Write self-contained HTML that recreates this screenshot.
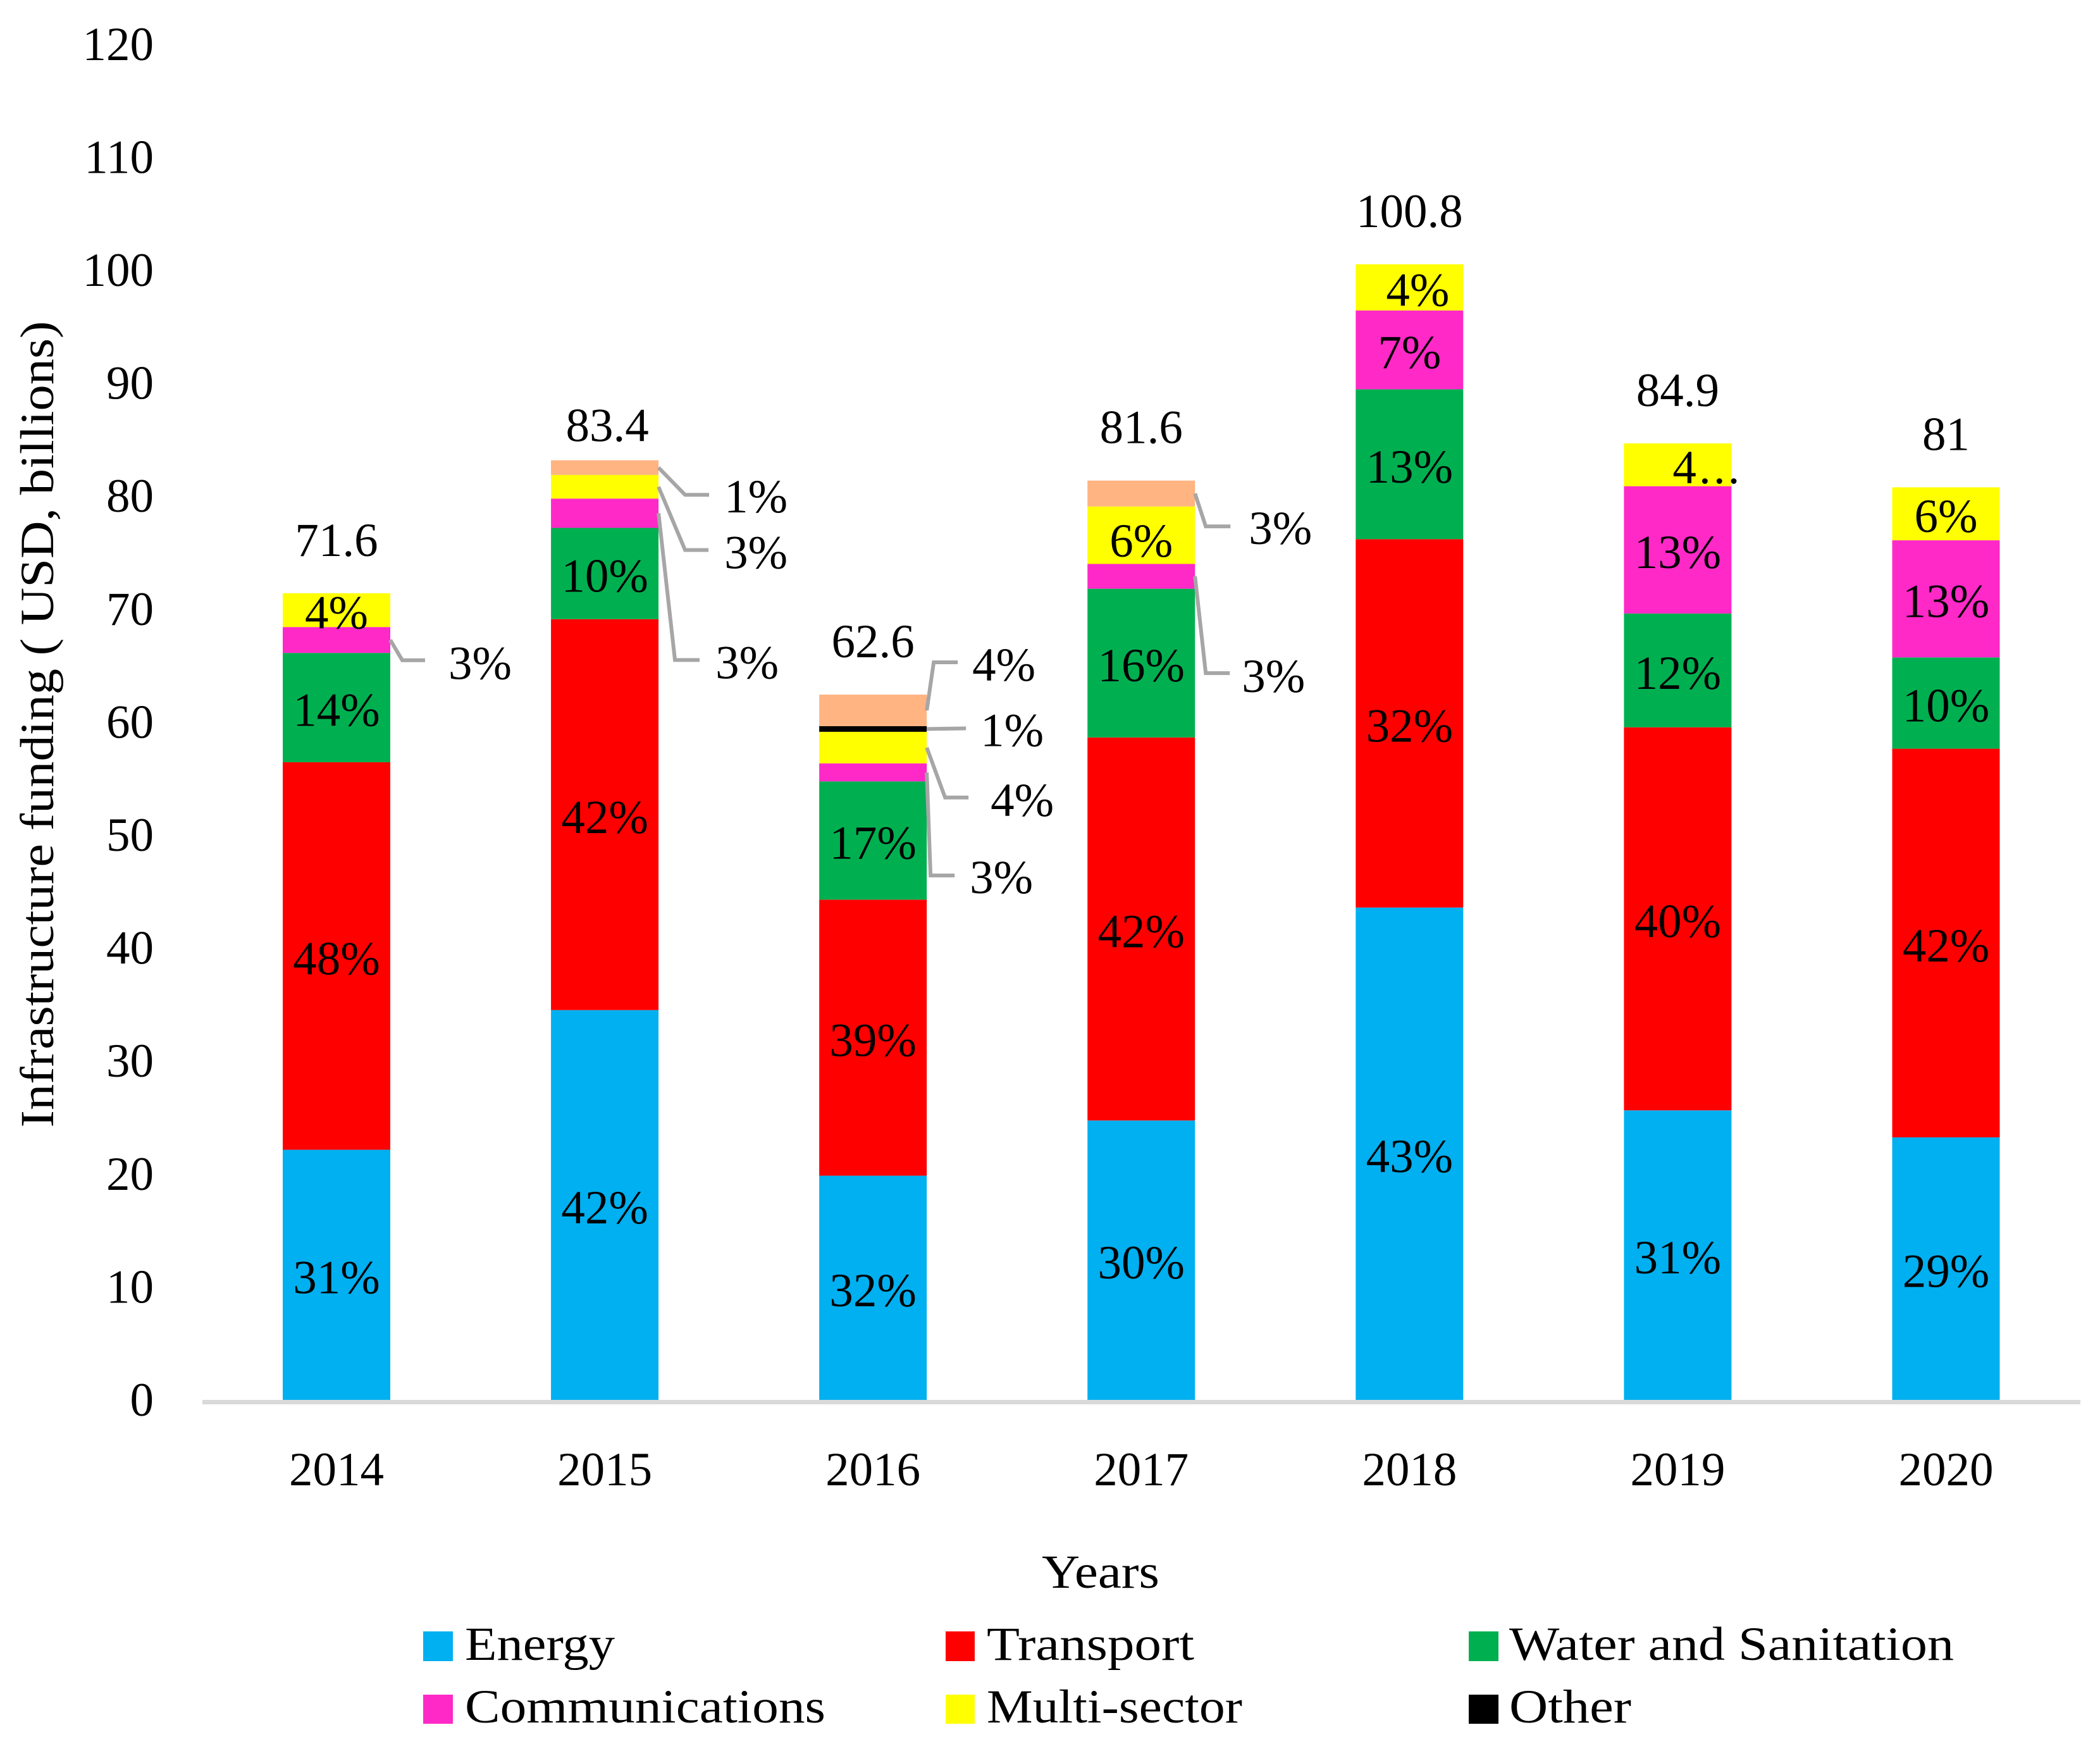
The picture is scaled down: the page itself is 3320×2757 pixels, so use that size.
<!DOCTYPE html>
<html lang="en">
<head>
<meta charset="utf-8">
<title>Infrastructure funding by sector</title>
<style>
html,body{margin:0;padding:0;background:#fff;width:3320px;height:2757px;overflow:hidden}
svg{display:block}
text{font-family:"Liberation Serif",serif;font-size:75px;fill:#000}
</style>
</head>
<body>
<svg id="chart" xmlns="http://www.w3.org/2000/svg" width="3320" height="2757" viewBox="0 0 3320 2757">
  <rect x="320" y="2213" width="2969" height="7" fill="#D9D9D9"/>
  <text x="84" y="1145" text-anchor="middle" textLength="1275" lengthAdjust="spacingAndGlyphs" transform="rotate(-90 84 1145)">Infrastructure funding ( USD, billions)</text>
  <text x="1740" y="2510" text-anchor="middle" textLength="186" lengthAdjust="spacingAndGlyphs">Years</text>
  <g>
    <rect x="669" y="2579" width="47" height="47" fill="#00B0F0"/>
    <text x="735" y="2624" textLength="237" lengthAdjust="spacingAndGlyphs">Energy</text>
    <rect x="1495" y="2579" width="46" height="47" fill="#FF0000"/>
    <text x="1560" y="2624" textLength="328" lengthAdjust="spacingAndGlyphs">Transport</text>
    <rect x="2322" y="2579" width="47" height="47" fill="#00B050"/>
    <text x="2386" y="2624" textLength="703" lengthAdjust="spacingAndGlyphs">Water and Sanitation</text>
    <rect x="669" y="2679" width="47" height="46" fill="#FF29C7"/>
    <text x="735" y="2723" textLength="570" lengthAdjust="spacingAndGlyphs">Communications</text>
    <rect x="1495" y="2679" width="46" height="46" fill="#FFFF00"/>
    <text x="1560" y="2723" textLength="404" lengthAdjust="spacingAndGlyphs">Multi-sector</text>
    <rect x="2322" y="2679" width="47" height="46" fill="#000000"/>
    <text x="2386" y="2723" textLength="193" lengthAdjust="spacingAndGlyphs">Other</text>
  </g>
</svg>
<script>
// Chart data (USD billions)
const years = ['2014','2015','2016','2017','2018','2019','2020'];
const yTicks = [0,10,20,30,40,50,60,70,80,90,100,110,120];
const energy = [22.2,34.6,19.9,24.8,43.7,25.7,23.3];
const transport = [34.4,34.7,24.5,34.0,32.7,34.0,34.5];
const water = [9.7,8.1,10.5,13.2,13.3,10.1,8.1];
const communications = [2.3,2.6,1.6,2.2,7.0,11.3,10.4];
const multiSector = [3.0,2.1,2.8,5.1,4.1,3.8,4.7];
const other = [0,0,0.5,0,0,0,0];
const unlisted = [0,1.3,2.8,2.3,0,0,0];
const totals = ['71.6','83.4','62.6','81.6','100.8','84.9','81'];
// Printed share labels
const energyPct = ['31%','42%','32%','30%','43%','31%','29%'];
const transportPct = ['48%','42%','39%','42%','32%','40%','42%'];
const waterPct = ['14%','10%','17%','16%','13%','12%','10%'];
const communicationsPct = ['3%','3%','3%','3%','7%','13%','13%'];
const multiSectorPct = ['4%','3%','4%','6%','4%','4...','6%'];
const otherPct = ['','','1%','','','',''];
const unlistedPct = ['','1%','4%','3%','','',''];

const svg = document.getElementById('chart');
const NS = 'http://www.w3.org/2000/svg';
const series = [
  {key:'energy', values:energy, labels:energyPct, color:'#00B0F0'},
  {key:'transport', values:transport, labels:transportPct, color:'#FF0000'},
  {key:'water', values:water, labels:waterPct, color:'#00B050'},
  {key:'communications', values:communications, labels:communicationsPct, color:'#FF29C7'},
  {key:'multi-sector', values:multiSector, labels:multiSectorPct, color:'#FFFF00'},
  {key:'other', values:other, labels:otherPct, color:'#000000'},
  {key:'unlisted', values:unlisted, labels:unlistedPct, color:'#FFB482'}
];

function yScale(v){ return 2213 - 17.81 * v; }
function tickLabelY(v){ return 2238 - 17.86 * v; }
function xCenter(i){ return 532 + 424.08 * i; }
const BAR_W = 170;

function mk(tag, attrs, text){
  const el = document.createElementNS(NS, tag);
  for (const k in attrs) el.setAttribute(k, attrs[k]);
  if (text !== undefined) el.textContent = text;
  svg.appendChild(el);
  return el;
}

// Y axis tick labels
yTicks.forEach(function(t){
  const el = mk('text', {x:243, y:tickLabelY(t), 'text-anchor':'end'}, String(t));
  
  
});

// Leader-line layout for labels placed outside the bars, relative to the bar edge and segment middle
const callouts = [
  {bar:0, s:3, ex:19, ey:32, end:55, tx:142, ty:36},
  {bar:1, s:6, ex:42, ey:43, end:80, tx:154, ty:45},
  {bar:1, s:4, ex:42, ey:100, end:79, tx:154, ty:103},
  {bar:1, s:3, ex:26, ey:232, end:65, tx:140, ty:235},
  {bar:2, s:6, ex:11, ey:-76, end:49, tx:122, ty:-73},
  {bar:2, s:5, ex:62, ey:-1, end:62, tx:135, ty:1},
  {bar:2, s:4, ex:29, ey:79, end:66, tx:151, ty:82},
  {bar:2, s:3, ex:6, ey:163, end:44, tx:118, ty:165},
  {bar:3, s:6, ex:17, ey:52, end:56, tx:135, ty:54},
  {bar:3, s:3, ex:17, ey:153, end:55, tx:124, ty:157}
];
function findCallout(i, s){
  return callouts.find(function(c){ return c.bar === i && c.s === s; });
}
// Small nudges of inside labels that were moved by hand in the original
function insideNudgeX(i, s){
  if (s === 4 && i === 4) return 13;
  if (s === 4 && i === 5) return 45;
  return 0;
}
function insideNudgeY(i, s){
  if (s === 4 && i === 3) return 5;
  return 0;
}

const labelQueue = [];
years.forEach(function(year, i){
  let cum = 0;
  const cx = xCenter(i);
  series.forEach(function(sr, s){
    const v = sr.values[i];
    if (v > 0) {
      const top = yScale(cum + v);
      const bottom = yScale(cum);
      const seg = mk('rect', {x:cx - BAR_W/2, y:top, width:BAR_W, height:bottom - top, fill:sr.color});
      
      
      if (sr.labels[i]) labelQueue.push({i:i, s:s, mid:(top + bottom)/2, cx:cx, text:sr.labels[i], key:sr.key, year:year});
    }
    cum += v;
  });
  labelQueue.push({total:true, i:i, cx:cx, top:yScale(cum), text:totals[i], year:year});

  const yl = mk('text', {x:cx, y:2348, 'text-anchor':'middle'}, year);
  
  
});

labelQueue.forEach(function(l){
  if (l.total) {
    const off = l.i === 1 ? 30 : 59;
    const nudge = l.i === 1 ? 4 : 0;
    const t = mk('text', {x:l.cx + nudge, y:l.top - off, 'text-anchor':'middle'}, l.text);
    
    
    return;
  }
  const c = findCallout(l.i, l.s);
  if (c) {
    const R = l.cx + BAR_W/2;
    const pts = [[R, l.mid], [R + c.ex, l.mid + c.ey], [R + c.end, l.mid + c.ey]];
    const line = mk('polyline', {points:pts.map(function(p){return p.join(',');}).join(' '), fill:'none', stroke:'#A6A6A6', 'stroke-width':6});
    
    
    const t = mk('text', {x:R + c.tx, y:l.mid + c.ty + 26, 'text-anchor':'middle'}, l.text);
    
    
  } else {
    const t = mk('text', {x:l.cx + insideNudgeX(l.i, l.s), y:l.mid + 29 + insideNudgeY(l.i, l.s), 'text-anchor':'middle'}, l.text);
    if (l.text === '4...') {
      t.setAttribute('textLength', '106');
    }
    
    
  }
});
</script>
</body>
</html>
